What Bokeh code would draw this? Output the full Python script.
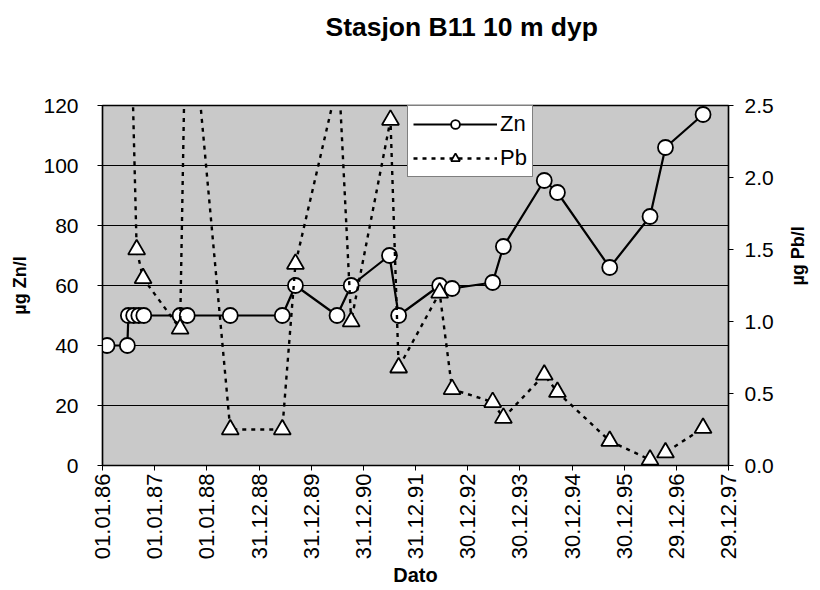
import pandas as pd
from math import pi
from bokeh.plotting import figure
from bokeh.models import (Range1d, LinearAxis, FixedTicker, DatetimeTickFormatter,
                          PrintfTickFormatter, Legend, LegendItem, ColumnDataSource, Title)
from bokeh.embed import file_html
from bokeh.resources import INLINE

# ---------------- data ----------------
title_text = "Stasjon B11 10 m dyp"
x_title = "Dato"
zn_title = "µg Zn/l"
pb_title = "µg Pb/l"

zn_dates = ["1986-02-02", "1986-06-24", "1986-07-01", "1986-08-07", "1986-09-12", "1986-10-17",
            "1987-06-28", "1987-08-17", "1988-06-13", "1989-06-12", "1989-09-12", "1990-06-30",
            "1990-10-07", "1991-07-02", "1991-09-04", "1992-06-17", "1992-09-12", "1993-06-23",
            "1993-09-06", "1994-06-19", "1994-09-19", "1995-09-20", "1996-06-28", "1996-10-14",
            "1997-07-04"]
zn_values = [40, 40, 50, 50, 50, 50, 50, 50, 50, 50, 60, 50, 60, 70, 50, 60, 59, 61, 73,
             95, 91, 66, 83, 106, 117]

pb_dates = ["1986-07-01", "1986-08-28", "1986-10-12", "1987-06-28", "1987-08-13", "1988-06-13",
            "1989-06-12", "1989-09-12", "1990-07-13", "1990-10-07", "1991-07-09", "1991-09-04",
            "1992-06-17", "1992-09-12", "1993-06-23", "1993-09-06", "1994-06-19", "1994-09-19",
            "1995-09-20", "1996-06-28", "1996-10-14", "1997-07-04"]
pb_values = [3.8, 1.5, 1.3, 0.95, 3.55, 0.25, 0.25, 1.4, 2.7, 1.0, 2.4, 0.68, 1.2, 0.53,
             0.44, 0.33, 0.63, 0.51, 0.17, 0.04, 0.09, 0.26]

x_tick_labels = ["01.01.86", "01.01.87", "01.01.88", "31.12.88", "31.12.89", "31.12.90",
                 "31.12.91", "30.12.92", "30.12.93", "30.12.94", "30.12.95", "29.12.96",
                 "29.12.97"]
zn_ticks = [0, 20, 40, 60, 80, 100, 120]
pb_ticks = [0.0, 0.5, 1.0, 1.5, 2.0, 2.5]

# ---------------- build ----------------
tick_dates = pd.to_datetime(x_tick_labels, format="%d.%m.%y")
tick_ms = [int(t.value // 10**6) for t in tick_dates]

zn_src = ColumnDataSource(dict(x=pd.to_datetime(zn_dates), y=zn_values))
pb_src = ColumnDataSource(dict(x=pd.to_datetime(pb_dates), y=pb_values))

FONT = "Liberation Sans"

p = figure(width=820, height=590, x_axis_type="datetime", title=None,
           x_range=Range1d(tick_ms[0], tick_ms[-1]),
           y_range=Range1d(zn_ticks[0], zn_ticks[-1]),
           output_backend="svg", toolbar_location=None,
           min_border_left=102, min_border_right=81, min_border_top=105, min_border_bottom=125,
           background_fill_color="#c9c9c9", border_fill_color="white",
           outline_line_color="black", outline_line_width=1.5)

p.extra_y_ranges = {"pb": Range1d(pb_ticks[0], pb_ticks[-1])}

xa = p.below[0]
ya = p.left[0]

# blank spacer panel right above the frame; the real title is stacked outside it
spacer = Title(text=" ", standoff=50, text_font=FONT, text_font_size="10px",
               text_color="white")
p.add_layout(spacer, "above")

title = Title(text=title_text, align="left", offset=223, standoff=2,
              text_font=FONT, text_font_size="26.5px", text_font_style="bold",
              text_color="black")
p.add_layout(title, "above")

# x axis
xa.ticker = FixedTicker(ticks=tick_ms)
fmt = "%d.%m.%y"
xa.formatter = DatetimeTickFormatter(microseconds=fmt, milliseconds=fmt, seconds=fmt,
                                     minsec=fmt, minutes=fmt, hourmin=fmt, hours=fmt,
                                     days=fmt, months=fmt, years=fmt)
xa.major_label_orientation = pi / 2
xa.axis_label = x_title

# left axis
ya.ticker = FixedTicker(ticks=zn_ticks)
ya.axis_label = zn_title
ya.major_label_standoff = 19
ya.axis_label_standoff = 10

# right axis
ra = LinearAxis(y_range_name="pb", ticker=FixedTicker(ticks=pb_ticks),
                formatter=PrintfTickFormatter(format="%.1f"))
ra.axis_label = pb_title
ra.major_label_standoff = 11
ra.axis_label_standoff = 21
if "axis_label_orientation" in ra.properties():
    ra.axis_label_orientation = pi / 2
p.add_layout(ra, "right")

for ax, lab_size in ((xa, "22px"), (ya, "21px"), (ra, "21px")):
    ax.axis_line_color = "black"
    ax.axis_line_width = 1.2
    ax.major_tick_line_color = "black"
    ax.major_tick_out = 5
    ax.major_tick_in = 0
    ax.minor_tick_line_color = None
    ax.major_label_text_font = FONT
    ax.major_label_text_font_size = lab_size
    ax.major_label_text_color = "black"
    ax.axis_label_text_font = FONT
    ax.axis_label_text_font_style = "bold"
    ax.axis_label_text_color = "black"
    ax.axis_label_text_font_size = "18px"
xa.major_label_standoff = 3
xa.axis_label_standoff = 2
xa.axis_label_text_font_size = "20px"

p.xgrid.visible = False
p.ygrid.grid_line_color = "black"
p.ygrid.grid_line_width = 1

# ---------------- series ----------------
zn_line = p.line("x", "y", source=zn_src, line_color="black", line_width=2.2)
zn_pts = p.scatter("x", "y", source=zn_src, marker="circle", size=15,
                   fill_color="white", line_color="black", line_width=1.8)

pb_line = p.line("x", "y", source=pb_src, y_range_name="pb", line_color="black",
                 line_width=2.4, line_dash="4 5")
pb_pts = p.scatter("x", "y", source=pb_src, y_range_name="pb", marker="triangle", size=17,
                   fill_color="white", line_color="black", line_width=1.8)

legend = Legend(items=[LegendItem(label="Zn", renderers=[zn_line, zn_pts]),
                       LegendItem(label="Pb", renderers=[pb_line, pb_pts])],
                location=(305, 288), orientation="vertical",
                glyph_width=84, glyph_height=22, label_height=22, label_standoff=3,
                spacing=8, padding=5, margin=0,
                border_line_color="black", border_line_width=1,
                background_fill_color="white", background_fill_alpha=1.0,
                label_text_font=FONT, label_text_font_size="22px", label_text_color="black")
p.add_layout(legend)

open("out.html", "w").write(file_html(p, INLINE))
